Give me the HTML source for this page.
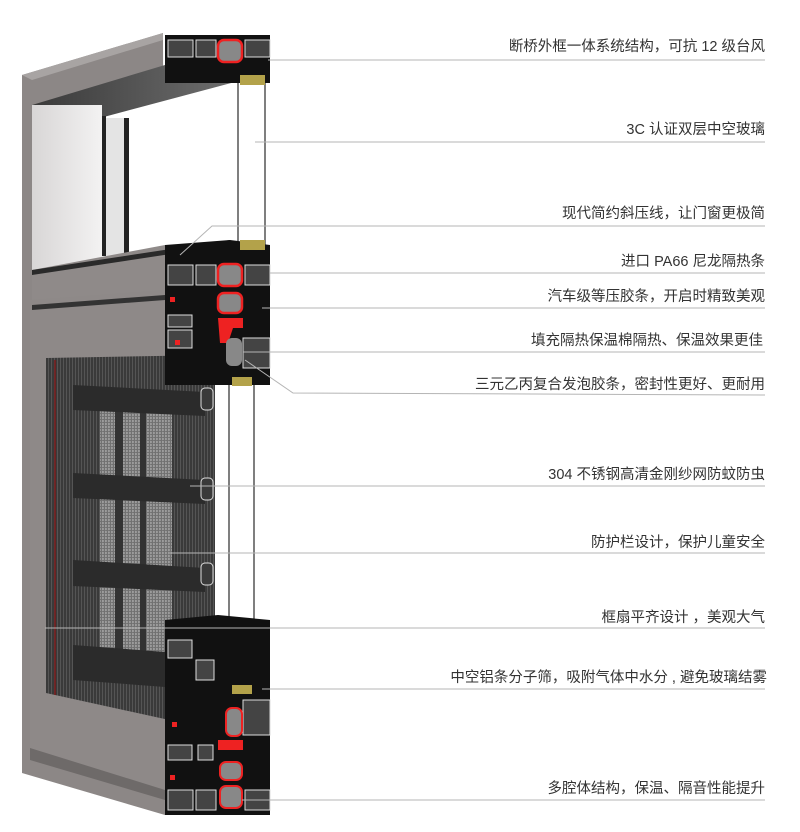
<!DOCTYPE html>
<html><head><meta charset="utf-8"><style>
body{margin:0;background:#fff;width:800px;height:832px;overflow:hidden}
svg{position:absolute;left:0;top:0}
text{font-family:"Liberation Sans","Noto Sans CJK SC",sans-serif;font-size:14.5px;fill:#333;text-anchor:end}
</style></head><body>
<svg width="800" height="832" viewBox="0 0 800 832" xmlns="http://www.w3.org/2000/svg">
<defs>
<linearGradient id="pan" x1="0" x2="1"><stop offset="0" stop-color="#d8d6d6"/><stop offset="1" stop-color="#f3f2f2"/></linearGradient>
<linearGradient id="sof" x1="0" x2="1"><stop offset="0" stop-color="#3a3a3a"/><stop offset="1" stop-color="#6e6e6e"/></linearGradient>
<pattern id="mesh" width="3" height="3" patternUnits="userSpaceOnUse"><rect width="3" height="3" fill="#3a3a3a"/><rect width="1" height="3" fill="#555"/></pattern>
<pattern id="mesh2" width="3" height="3" patternUnits="userSpaceOnUse"><rect width="3" height="3" fill="#888"/><rect width="2" height="2" fill="#bbb"/></pattern>
</defs>
<polygon points="22,75 163,33 165,815 22,773" fill="#8c8786"/>
<polygon points="22,75 163,33 163,40 32,80" fill="#a8a4a3"/>
<polygon points="32,105 230,83 230,255 32,270" fill="#fff"/>
<polygon points="32,105 165,65 235,82 100,118" fill="url(#sof)"/>
<rect x="32" y="105" width="70" height="165" fill="url(#pan)"/>
<rect x="102" y="116" width="4" height="140" fill="#222"/>
<rect x="106" y="118" width="18" height="138" fill="#e4e4e4"/>
<rect x="124" y="118" width="5" height="136" fill="#222"/>
<polygon points="32,270 165,245 165,292 32,300" fill="#8f8a89"/>
<polygon points="32,270 230,240 230,245 32,275" fill="#2a2a2a"/>
<polygon points="30,300 165,290 165,790 30,748" fill="#8e8988"/>
<polygon points="32,305 165,295 165,300 32,310" fill="#333"/>
<polygon points="46,358 215,355 215,730 46,693" fill="url(#mesh)"/>
<rect x="100" y="410" width="72" height="260" fill="url(#mesh2)" opacity="0.7"/>
<rect x="115" y="410" width="8" height="260" fill="#333"/>
<rect x="140" y="410" width="6" height="260" fill="#333"/>
<line x1="55" y1="360" x2="55" y2="695" stroke="#7a1a1a" stroke-width="1.5"/>
<polygon points="30,748 165,790 165,800 30,760" fill="#6e6a69"/>
<g fill="#2b2b2b">
<polygon points="73,385 205,392 205,416 73,410"/>
<polygon points="73,473 205,480 205,504 73,498"/>
<polygon points="73,560 205,568 205,592 73,586"/>
<polygon points="73,645 205,655 205,690 73,680"/>
</g>
<g fill="#3a3a3a" stroke="#ddd" stroke-width="1">
<rect x="201" y="388" width="12" height="22" rx="4"/>
<rect x="201" y="478" width="12" height="22" rx="4"/>
<rect x="201" y="563" width="12" height="22" rx="4"/>
<rect x="201" y="662" width="12" height="22" rx="4"/>
</g>
<g stroke="#555" stroke-width="1.5" fill="none">
<line x1="238" y1="80" x2="238" y2="245"/><line x1="265" y1="80" x2="265" y2="245"/>
<line x1="229" y1="385" x2="229" y2="690"/><line x1="254" y1="385" x2="254" y2="690"/>
</g>
<g>
<rect x="165" y="35" width="105" height="48" fill="#111"/>
<g fill="#444" stroke="#ddd" stroke-width="1">
<rect x="168" y="40" width="25" height="17"/><rect x="196" y="40" width="20" height="17"/>
<rect x="245" y="40" width="25" height="17"/>
<rect x="168" y="265" width="25" height="20"/><rect x="196" y="265" width="20" height="20"/>
<rect x="245" y="265" width="25" height="20"/>
<rect x="243" y="338" width="27" height="30"/>
<rect x="168" y="315" width="24" height="12"/><rect x="168" y="330" width="24" height="18"/>
<rect x="243" y="700" width="27" height="35"/>
<rect x="168" y="790" width="25" height="20"/><rect x="196" y="790" width="20" height="20"/>
<rect x="245" y="790" width="25" height="20"/>
<rect x="168" y="745" width="24" height="15"/><rect x="198" y="745" width="15" height="15"/>
</g>
<rect x="218" y="40" width="24" height="22" rx="6" fill="#888" stroke="#e22" stroke-width="2.5"/>
<rect x="240" y="75" width="25" height="10" fill="#b3a24a"/>
<polygon points="165,245 230,240 270,245 270,385 165,385" fill="#111"/>
<g fill="#444" stroke="#ddd" stroke-width="1">
<rect x="168" y="265" width="25" height="20"/><rect x="196" y="265" width="20" height="20"/>
<rect x="245" y="265" width="25" height="20"/>
<rect x="243" y="338" width="27" height="30"/>
<rect x="168" y="315" width="24" height="12"/><rect x="168" y="330" width="24" height="18"/>
</g>
<rect x="240" y="240" width="25" height="10" fill="#b3a24a"/>
<rect x="218" y="264" width="24" height="22" rx="6" fill="#888" stroke="#e22" stroke-width="2.5"/>
<rect x="218" y="293" width="24" height="20" rx="6" fill="#888" stroke="#e22" stroke-width="2.5"/>
<path d="M218 318 h25 v10 h-10 l-5 15 h-8 z" fill="#e22"/>
<rect x="226" y="338" width="16" height="28" rx="6" fill="#888"/>
<rect x="170" y="297" width="5" height="5" fill="#e22"/><rect x="175" y="340" width="5" height="5" fill="#e22"/>
<rect x="232" y="377" width="20" height="9" fill="#b3a24a"/>
<polygon points="165,620 218,615 270,620 270,815 165,815" fill="#111"/>
<g fill="#444" stroke="#ddd" stroke-width="1">
<rect x="243" y="700" width="27" height="35"/>
<rect x="168" y="790" width="25" height="20"/><rect x="196" y="790" width="20" height="20"/>
<rect x="245" y="790" width="25" height="20"/>
<rect x="168" y="745" width="24" height="15"/><rect x="198" y="745" width="15" height="15"/>
<rect x="168" y="640" width="24" height="18"/><rect x="196" y="660" width="18" height="20"/>
</g>
<rect x="232" y="685" width="20" height="9" fill="#b3a24a"/>
<rect x="226" y="708" width="16" height="28" rx="6" fill="#888" stroke="#e22" stroke-width="2"/>
<path d="M218 740 h25 v10 h-25 z" fill="#e22"/>
<rect x="220" y="762" width="22" height="18" rx="6" fill="#888" stroke="#e22" stroke-width="2"/>
<rect x="220" y="786" width="22" height="22" rx="6" fill="#888" stroke="#e22" stroke-width="2"/>
<rect x="172" y="722" width="5" height="5" fill="#e22"/><rect x="170" y="775" width="5" height="5" fill="#e22"/>
</g>
<g stroke="#b5b5b5" stroke-width="1" fill="none">
<line x1="268" y1="60" x2="765" y2="60"/>
<line x1="255" y1="142" x2="765" y2="142"/>
<polyline points="180,255 212,226 765,226"/>
<line x1="270" y1="273" x2="765" y2="273"/>
<line x1="262" y1="308" x2="765" y2="308"/>
<line x1="243" y1="352" x2="765" y2="352"/>
<polyline points="245,360 293,393 765,395"/>
<line x1="190" y1="486" x2="765" y2="486"/>
<line x1="170" y1="553" x2="765" y2="553"/>
<line x1="45" y1="628" x2="765" y2="628"/>
<line x1="262" y1="689" x2="765" y2="689"/>
<line x1="242" y1="800" x2="765" y2="800"/>
</g>
<text x="765" y="51">断桥外框一体系统结构，可抗 12 级台风</text>
<text x="765" y="134">3C 认证双层中空玻璃</text>
<text x="765" y="218">现代简约斜压线，让门窗更极简</text>
<text x="765" y="266">进口 PA66 尼龙隔热条</text>
<text x="765" y="301">汽车级等压胶条，开启时精致美观</text>
<text x="763" y="345">填充隔热保温棉隔热、保温效果更佳</text>
<text x="765" y="389">三元乙丙复合发泡胶条，密封性更好、更耐用</text>
<text x="765" y="479">304 不锈钢高清金刚纱网防蚊防虫</text>
<text x="765" y="547">防护栏设计，保护儿童安全</text>
<text x="765" y="622">框扇平齐设计 ，美观大气</text>
<text x="767" y="682">中空铝条分子筛，吸附气体中水分 , 避免玻璃结雾</text>
<text x="765" y="793">多腔体结构，保温、隔音性能提升</text>
</svg>
</body></html>
